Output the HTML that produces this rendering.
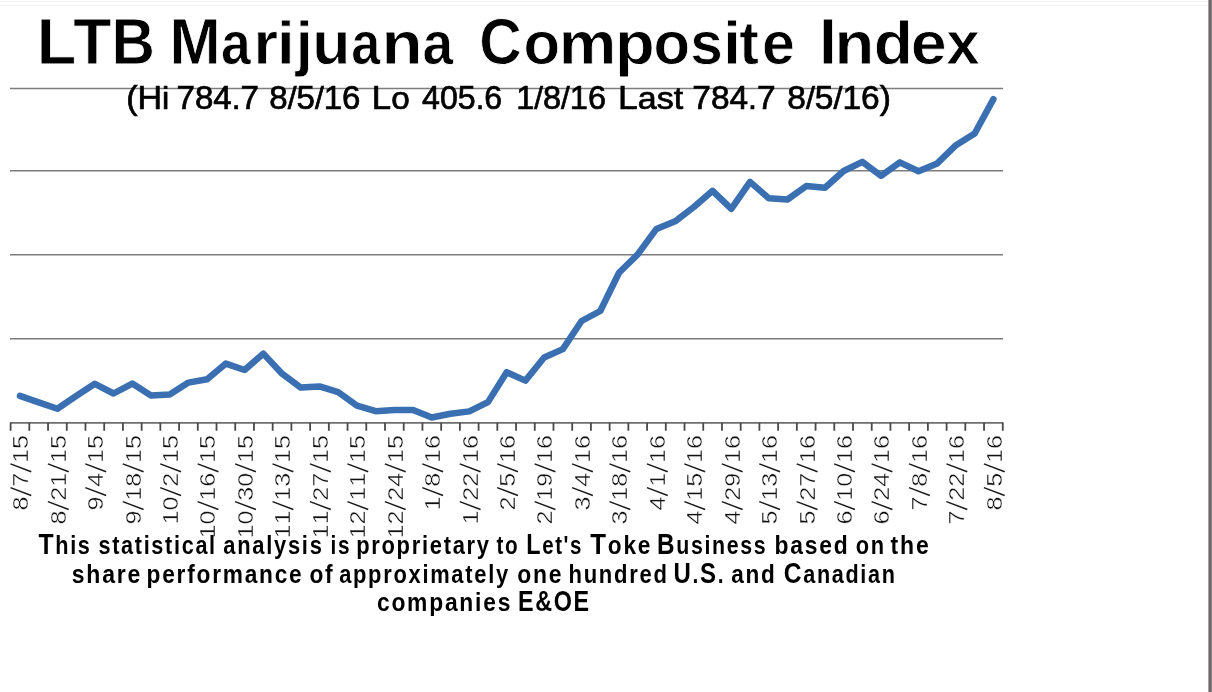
<!DOCTYPE html>
<html><head><meta charset="utf-8"><style>
html,body{margin:0;padding:0;background:#fff;}
body{width:1212px;height:692px;position:relative;overflow:hidden;}
svg{position:absolute;left:0;top:0;filter:blur(0.3px);}
text{font-family:"Liberation Sans",sans-serif;fill:#000;}
.ti{font-size:61.4px;font-weight:bold} .ti .U{font-size:64.78px}
.su{font-size:31.3px} .su .U{font-size:32.61px}
.fo{font-size:25.5px;font-weight:bold;letter-spacing:2.0px} .fo .U{font-size:29.07px}
.su{stroke:#000;stroke-width:0.7px}
.ti{stroke:#fff;stroke-width:0.8px}
.fo{stroke:#fff;stroke-width:0.0px}
.tg{font-weight:bold;stroke:#fff;stroke-width:0.8px}
#rb{position:absolute;left:1208px;top:0;width:4px;height:692px;background:linear-gradient(to right,#a8a2a4 0,#a8a2a4 1px,#6e6668 1px,#6e6668 3px,#8c8486 3px);}
#tl{position:absolute;left:0;top:1px;width:1208px;height:1px;background:#f4f4f4;}
#tl2{position:absolute;left:0;top:5px;width:1208px;height:1px;background:#f7f7f7;}
</style></head><body>
<div id="tl"></div><div id="tl2"></div>
<svg width="1212" height="692" viewBox="0 0 1212 692">
<path d="M10 88.5H1003M10 170.7H1003M10 254.8H1003M10 338.7H1003" stroke="#7c7c7c" stroke-width="1.6" fill="none"/>
<path d="M10 422.8H1003.4" stroke="#6e6e6e" stroke-width="1.7" fill="none"/>
<path d="M10.60 422.8V430.8M29.32 422.8V430.8M48.04 422.8V430.8M66.76 422.8V430.8M85.48 422.8V430.8M104.20 422.8V430.8M122.92 422.8V430.8M141.64 422.8V430.8M160.36 422.8V430.8M179.08 422.8V430.8M197.80 422.8V430.8M216.52 422.8V430.8M235.24 422.8V430.8M253.96 422.8V430.8M272.68 422.8V430.8M291.40 422.8V430.8M310.12 422.8V430.8M328.84 422.8V430.8M347.56 422.8V430.8M366.28 422.8V430.8M385.00 422.8V430.8M403.72 422.8V430.8M422.44 422.8V430.8M441.16 422.8V430.8M459.88 422.8V430.8M478.60 422.8V430.8M497.32 422.8V430.8M516.04 422.8V430.8M534.76 422.8V430.8M553.48 422.8V430.8M572.20 422.8V430.8M590.92 422.8V430.8M609.64 422.8V430.8M628.36 422.8V430.8M647.08 422.8V430.8M665.80 422.8V430.8M684.52 422.8V430.8M703.24 422.8V430.8M721.96 422.8V430.8M740.68 422.8V430.8M759.40 422.8V430.8M778.12 422.8V430.8M796.84 422.8V430.8M815.56 422.8V430.8M834.28 422.8V430.8M853.00 422.8V430.8M871.72 422.8V430.8M890.44 422.8V430.8M909.16 422.8V430.8M927.88 422.8V430.8M946.60 422.8V430.8M965.32 422.8V430.8M984.04 422.8V430.8M1002.76 422.8V430.8" stroke="#4a4a4a" stroke-width="1.8" fill="none"/>
<polyline points="19.96,395.9 38.68,402.3 57.40,408.8 76.12,396 94.84,383.8 113.56,393.5 132.28,383.6 151.00,395.5 169.72,394.5 188.44,382.6 207.16,379.3 225.88,363.6 244.60,370 263.32,353.6 282.04,373.7 300.76,387.6 319.48,386.4 338.20,392.2 356.92,405.6 375.64,411.2 394.36,410.1 413.08,410 431.80,417.5 450.52,413.8 469.24,411.4 487.96,402.1 506.68,372.2 525.40,380.6 544.12,357.5 562.84,349.1 581.56,321.0 600.28,311 619.00,272.8 637.72,254.4 656.44,228.9 675.16,221.3 693.88,207 712.60,190.8 731.32,208.8 750.04,181.9 768.76,198.3 787.48,199.5 806.20,186.1 824.92,187.7 843.64,171 862.36,161.9 881.08,175.8 899.80,162.4 918.52,171.2 937.24,163.4 955.96,145.2 974.68,133.5 993.40,99.1" fill="none" stroke="#3a6fb2" stroke-width="6.5" stroke-linejoin="round" stroke-linecap="round"/>
<style>.lab text{stroke:#fff;stroke-width:0.4px;fill:#111} .lab path{stroke:#1a1a1a;stroke-width:1.5px;fill:none;vector-effect:non-scaling-stroke}</style>
<g class="lab" font-size="22">
<g transform="translate(28.26,434.90) rotate(-90) scale(1.145,1)"><text x="-65.97 -45.22 -24.47 -12.24">8715</text><path d="M-52.88 3.0L-46.07 -17.8M-32.13 3.0L-25.32 -17.8"/></g>
<g transform="translate(65.70,434.90) rotate(-90) scale(1.145,1)"><text x="-78.21 -57.46 -45.22 -24.47 -12.24">82115</text><path d="M-65.12 3.0L-58.31 -17.8M-32.13 3.0L-25.32 -17.8"/></g>
<g transform="translate(103.14,434.90) rotate(-90) scale(1.145,1)"><text x="-65.97 -45.22 -24.47 -12.24">9415</text><path d="M-52.88 3.0L-46.07 -17.8M-32.13 3.0L-25.32 -17.8"/></g>
<g transform="translate(140.58,434.90) rotate(-90) scale(1.145,1)"><text x="-78.21 -57.46 -45.22 -24.47 -12.24">91815</text><path d="M-65.12 3.0L-58.31 -17.8M-32.13 3.0L-25.32 -17.8"/></g>
<g transform="translate(178.02,434.90) rotate(-90) scale(1.145,1)"><text x="-78.21 -65.97 -45.22 -24.47 -12.24">10215</text><path d="M-52.88 3.0L-46.07 -17.8M-32.13 3.0L-25.32 -17.8"/></g>
<g transform="translate(215.46,434.90) rotate(-90) scale(1.145,1)"><text x="-90.44 -78.21 -57.46 -45.22 -24.47 -12.24">101615</text><path d="M-65.12 3.0L-58.31 -17.8M-32.13 3.0L-25.32 -17.8"/></g>
<g transform="translate(252.90,434.90) rotate(-90) scale(1.145,1)"><text x="-90.44 -78.21 -57.46 -45.22 -24.47 -12.24">103015</text><path d="M-65.12 3.0L-58.31 -17.8M-32.13 3.0L-25.32 -17.8"/></g>
<g transform="translate(290.34,434.90) rotate(-90) scale(1.145,1)"><text x="-90.44 -78.21 -57.46 -45.22 -24.47 -12.24">111315</text><path d="M-65.12 3.0L-58.31 -17.8M-32.13 3.0L-25.32 -17.8"/></g>
<g transform="translate(327.78,434.90) rotate(-90) scale(1.145,1)"><text x="-90.44 -78.21 -57.46 -45.22 -24.47 -12.24">112715</text><path d="M-65.12 3.0L-58.31 -17.8M-32.13 3.0L-25.32 -17.8"/></g>
<g transform="translate(365.22,434.90) rotate(-90) scale(1.145,1)"><text x="-90.44 -78.21 -57.46 -45.22 -24.47 -12.24">121115</text><path d="M-65.12 3.0L-58.31 -17.8M-32.13 3.0L-25.32 -17.8"/></g>
<g transform="translate(402.66,434.90) rotate(-90) scale(1.145,1)"><text x="-90.44 -78.21 -57.46 -45.22 -24.47 -12.24">122415</text><path d="M-65.12 3.0L-58.31 -17.8M-32.13 3.0L-25.32 -17.8"/></g>
<g transform="translate(440.10,434.90) rotate(-90) scale(1.145,1)"><text x="-65.97 -45.22 -24.47 -12.24">1816</text><path d="M-52.88 3.0L-46.07 -17.8M-32.13 3.0L-25.32 -17.8"/></g>
<g transform="translate(477.54,434.90) rotate(-90) scale(1.145,1)"><text x="-78.21 -57.46 -45.22 -24.47 -12.24">12216</text><path d="M-65.12 3.0L-58.31 -17.8M-32.13 3.0L-25.32 -17.8"/></g>
<g transform="translate(514.98,434.90) rotate(-90) scale(1.145,1)"><text x="-65.97 -45.22 -24.47 -12.24">2516</text><path d="M-52.88 3.0L-46.07 -17.8M-32.13 3.0L-25.32 -17.8"/></g>
<g transform="translate(552.42,434.90) rotate(-90) scale(1.145,1)"><text x="-78.21 -57.46 -45.22 -24.47 -12.24">21916</text><path d="M-65.12 3.0L-58.31 -17.8M-32.13 3.0L-25.32 -17.8"/></g>
<g transform="translate(589.86,434.90) rotate(-90) scale(1.145,1)"><text x="-65.97 -45.22 -24.47 -12.24">3416</text><path d="M-52.88 3.0L-46.07 -17.8M-32.13 3.0L-25.32 -17.8"/></g>
<g transform="translate(627.30,434.90) rotate(-90) scale(1.145,1)"><text x="-78.21 -57.46 -45.22 -24.47 -12.24">31816</text><path d="M-65.12 3.0L-58.31 -17.8M-32.13 3.0L-25.32 -17.8"/></g>
<g transform="translate(664.74,434.90) rotate(-90) scale(1.145,1)"><text x="-65.97 -45.22 -24.47 -12.24">4116</text><path d="M-52.88 3.0L-46.07 -17.8M-32.13 3.0L-25.32 -17.8"/></g>
<g transform="translate(702.18,434.90) rotate(-90) scale(1.145,1)"><text x="-78.21 -57.46 -45.22 -24.47 -12.24">41516</text><path d="M-65.12 3.0L-58.31 -17.8M-32.13 3.0L-25.32 -17.8"/></g>
<g transform="translate(739.62,434.90) rotate(-90) scale(1.145,1)"><text x="-78.21 -57.46 -45.22 -24.47 -12.24">42916</text><path d="M-65.12 3.0L-58.31 -17.8M-32.13 3.0L-25.32 -17.8"/></g>
<g transform="translate(777.06,434.90) rotate(-90) scale(1.145,1)"><text x="-78.21 -57.46 -45.22 -24.47 -12.24">51316</text><path d="M-65.12 3.0L-58.31 -17.8M-32.13 3.0L-25.32 -17.8"/></g>
<g transform="translate(814.50,434.90) rotate(-90) scale(1.145,1)"><text x="-78.21 -57.46 -45.22 -24.47 -12.24">52716</text><path d="M-65.12 3.0L-58.31 -17.8M-32.13 3.0L-25.32 -17.8"/></g>
<g transform="translate(851.94,434.90) rotate(-90) scale(1.145,1)"><text x="-78.21 -57.46 -45.22 -24.47 -12.24">61016</text><path d="M-65.12 3.0L-58.31 -17.8M-32.13 3.0L-25.32 -17.8"/></g>
<g transform="translate(889.38,434.90) rotate(-90) scale(1.145,1)"><text x="-78.21 -57.46 -45.22 -24.47 -12.24">62416</text><path d="M-65.12 3.0L-58.31 -17.8M-32.13 3.0L-25.32 -17.8"/></g>
<g transform="translate(926.82,434.90) rotate(-90) scale(1.145,1)"><text x="-65.97 -45.22 -24.47 -12.24">7816</text><path d="M-52.88 3.0L-46.07 -17.8M-32.13 3.0L-25.32 -17.8"/></g>
<g transform="translate(964.26,434.90) rotate(-90) scale(1.145,1)"><text x="-78.21 -57.46 -45.22 -24.47 -12.24">72216</text><path d="M-65.12 3.0L-58.31 -17.8M-32.13 3.0L-25.32 -17.8"/></g>
<g transform="translate(1001.70,434.90) rotate(-90) scale(1.145,1)"><text x="-65.97 -45.22 -24.47 -12.24">8516</text><path d="M-52.88 3.0L-46.07 -17.8M-32.13 3.0L-25.32 -17.8"/></g>
</g>
<text class="tg" style="font-size:64.78px" transform="translate(36.7,63.9) scale(1.0,1)">L</text>
<text class="tg" style="font-size:64.78px" transform="translate(73.14,63.9) scale(0.9649,1)">T</text>
<text class="tg" style="font-size:64.78px" transform="translate(111.56,63.9) scale(0.9289,1)">B</text>
<text class="tg" style="font-size:64.78px" transform="translate(169.45,63.9) scale(0.95,1)">M</text>
<text class="tg" style="font-size:61.4px" transform="translate(220.96,63.9) scale(0.8688,1)">a</text>
<text class="tg" style="font-size:61.4px" transform="translate(253.38,63.9) scale(1.0235,1)">r</text>
<text class="tg" style="font-size:61.4px" transform="translate(276.81,63.9) scale(1.0571,1)">i</text>
<text class="tg" style="font-size:61.4px" transform="translate(295.7,63.9) scale(1.0,1)">j</text>
<text class="tg" style="font-size:61.4px" transform="translate(312.33,63.9) scale(1.0172,1)">u</text>
<text class="tg" style="font-size:61.4px" transform="translate(351.2,63.9) scale(0.85,1)">a</text>
<text class="tg" style="font-size:61.4px" transform="translate(381.62,63.9) scale(1.0964,1)">n</text>
<text class="tg" style="font-size:61.4px" transform="translate(422.41,63.9) scale(0.8969,1)">a</text>
<text class="tg" style="font-size:64.78px" transform="translate(479.18,63.9) scale(0.9073,1)">C</text>
<text class="tg" style="font-size:61.4px" transform="translate(523.58,63.9) scale(0.975,1)">o</text>
<text class="tg" style="font-size:61.4px" transform="translate(558.72,63.9) scale(1.0556,1)">m</text>
<text class="tg" style="font-size:61.4px" transform="translate(615.11,63.9) scale(1.0586,1)">p</text>
<text class="tg" style="font-size:61.4px" transform="translate(653.48,63.9) scale(0.975,1)">o</text>
<text class="tg" style="font-size:61.4px" transform="translate(690.24,63.9) scale(0.9536,1)">s</text>
<text class="tg" style="font-size:61.4px" transform="translate(722.91,63.9) scale(1.0571,1)">i</text>
<text class="tg" style="font-size:61.4px" transform="translate(739.14,63.9) scale(0.9611,1)">t</text>
<text class="tg" style="font-size:61.4px" transform="translate(762.01,63.9) scale(0.9625,1)">e</text>
<text class="tg" style="font-size:64.78px" transform="translate(819.06,63.9) scale(0.9875,1)">I</text>
<text class="tg" style="font-size:61.4px" transform="translate(834.5,63.9) scale(1.0607,1)">n</text>
<text class="tg" style="font-size:61.4px" transform="translate(873.77,63.9) scale(1.0433,1)">d</text>
<text class="tg" style="font-size:61.4px" transform="translate(910.74,63.9) scale(1.0536,1)">e</text>
<text class="tg" style="font-size:61.4px" transform="translate(946.13,63.9) scale(0.9833,1)">x</text>
<text class="su" transform="translate(126.16,109.4) scale(1.0434,1)"><tspan class="U">(H</tspan>i</text>
<text class="su" transform="translate(176.48,109.4) scale(1.0152,1)"><tspan class="U">784</tspan>.<tspan class="U">7</tspan></text>
<text class="su" transform="translate(269.29,109.4) scale(1.0136,1)"><tspan class="U">8</tspan>/<tspan class="U">5</tspan>/<tspan class="U">16</tspan></text>
<text class="su" transform="translate(371.87,109.4) scale(1.0667,1)"><tspan class="U">L</tspan>o</text>
<text class="su" transform="translate(422.1,109.4) scale(0.9862,1)"><tspan class="U">405</tspan>.<tspan class="U">6</tspan></text>
<text class="su" transform="translate(516.2,109.4) scale(0.9989,1)"><tspan class="U">1</tspan>/<tspan class="U">8</tspan>/<tspan class="U">16</tspan></text>
<text class="su" transform="translate(618.12,109.4) scale(1.0879,1)"><tspan class="U">L</tspan>ast</text>
<text class="su" transform="translate(692.27,109.4) scale(1.0266,1)"><tspan class="U">784</tspan>.<tspan class="U">7</tspan></text>
<text class="su" transform="translate(787.27,109.4) scale(1.0286,1)"><tspan class="U">8</tspan>/<tspan class="U">5</tspan>/<tspan class="U">16)</tspan></text>
<text class="fo" transform="translate(38.4,553.7) scale(0.85,1)"><tspan class="U">T</tspan>his</text>
<text class="fo" transform="translate(98.45,553.7) scale(0.8481,1)">statistical</text>
<text class="fo" transform="translate(223.34,553.7) scale(0.8593,1)">analysis</text>
<text class="fo" transform="translate(330.57,553.7) scale(0.815,1)">is</text>
<text class="fo" transform="translate(356.18,553.7) scale(0.8592,1)">proprietary</text>
<text class="fo" transform="translate(496.4,553.7) scale(0.812,1)">to</text>
<text class="fo" transform="translate(526.29,553.7) scale(0.803,1)"><tspan class="U">L</tspan>et&#39;s</text>
<text class="fo" transform="translate(590.3,553.7) scale(0.8866,1)"><tspan class="U">T</tspan>oke</text>
<text class="fo" transform="translate(656.93,553.7) scale(0.837,1)"><tspan class="U">B</tspan>usiness</text>
<text class="fo" transform="translate(774.41,553.7) scale(0.8974,1)">based</text>
<text class="fo" transform="translate(855.75,553.7) scale(0.8548,1)">on</text>
<text class="fo" transform="translate(890.6,553.7) scale(0.9024,1)">the</text>
<text class="fo" transform="translate(71.7,583.3) scale(0.9027,1)">share</text>
<text class="fo" transform="translate(146.52,583.3) scale(0.8901,1)">performance</text>
<text class="fo" transform="translate(309.41,583.3) scale(0.892,1)">of</text>
<text class="fo" transform="translate(339.14,583.3) scale(0.8587,1)">approximately</text>
<text class="fo" transform="translate(517.3,583.3) scale(0.8979,1)">one</text>
<text class="fo" transform="translate(568.47,583.3) scale(0.8636,1)">hundred</text>
<text class="fo" transform="translate(673.45,583.3) scale(0.8263,1)"><tspan class="U">U</tspan>.<tspan class="U">S</tspan>.</text>
<text class="fo" transform="translate(731.21,583.3) scale(0.8851,1)">and</text>
<text class="fo" transform="translate(783.75,583.3) scale(0.8465,1)"><tspan class="U">C</tspan>anadian</text>
<text class="fo" transform="translate(376.91,611.4) scale(0.8946,1)">companies</text>
<text class="fo" transform="translate(517.99,611.4) scale(0.8041,1)"><tspan class="U">E&amp;OE</tspan></text>
</svg>
<div id="rb"></div>
</body></html>
